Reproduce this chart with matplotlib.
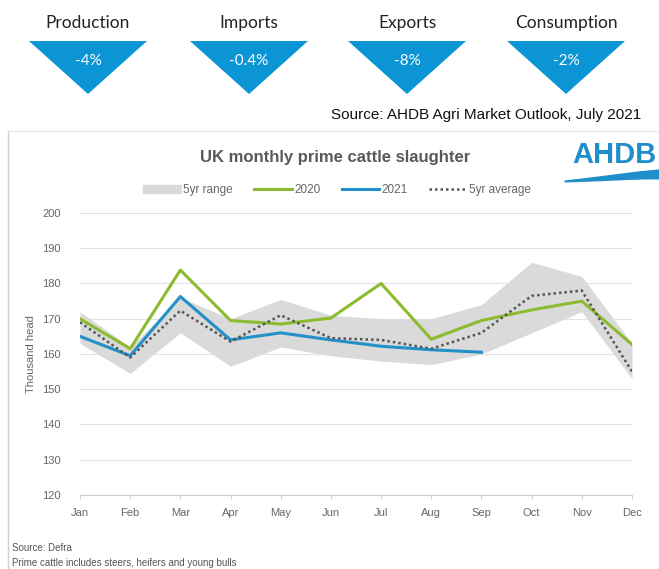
import matplotlib
matplotlib.use("Agg")
import matplotlib.pyplot as plt
from matplotlib.patches import Polygon, Patch
from matplotlib.lines import Line2D
import numpy as np

# outlook headline numbers
outlook_labels = ["Production", "Imports", "Exports", "Consumption"]
outlook_changes = ["-4%", "-0.4%", "-8%", "-2%"]

# monthly prime cattle slaughter (thousand head)
months = ["Jan", "Feb", "Mar", "Apr", "May", "Jun", "Jul", "Aug", "Sep", "Oct", "Nov", "Dec"]
range_low = [163, 154.5, 166, 156.5, 162, 159.5, 158, 157, 160, 166, 172, 153]
range_high = [172, 162, 176, 170, 175.5, 171, 170, 170, 174, 186, 182, 163]
avg_5yr = [169, 159, 172.3, 163.5, 171, 164.5, 164, 161.5, 166, 176.5, 178, 155]
y2020 = [170, 161.5, 183.8, 169.5, 168.5, 170.2, 180, 164.2, 169.5, 172.5, 175, 162.7]
y2021 = [165, 159.5, 176.3, 164, 166, 164, 162.2, 161.2, 160.5]

W, H = 659, 569
fig = plt.figure(figsize=(W / 100, H / 100), dpi=100)
plt.rcParams["font.family"] = ["Liberation Sans", "DejaVu Sans"]

# overlay in pixel coords for the infographic / decorations
ov = fig.add_axes([0, 0, 1, 1])
ov.set_xlim(0, W)
ov.set_ylim(H, 0)
ov.axis("off")

TRI_BLUE = "#0b95d4"
centres = [88, 249, 407, 566]
for cx, lab, chg in zip(centres, outlook_labels, outlook_changes):
    ov.add_patch(Polygon([[cx - 59, 41], [cx + 59, 41], [cx, 94]], closed=True,
                         color=TRI_BLUE, lw=0))
    ov.text(cx, 23, lab, ha="center", va="center", fontsize=12.5,
            family=["Lato", "DejaVu Sans"], color="#222222")
    ov.text(cx, 61, chg, ha="center", va="center", fontsize=11,
            family=["Lato", "DejaVu Sans"], color="white")

ov.text(641, 115, "Source: AHDB Agri Market Outlook, July 2021", ha="right", va="center",
        fontsize=11, color="#111111")

# chart frame
ov.plot([8, 8], [131, H], color="#d0d0d0", lw=1)
ov.plot([8, W], [131, 131], color="#e6e6e6", lw=0.8)

ov.text(335, 157, "UK monthly prime cattle slaughter", ha="center", va="center",
        fontsize=12, fontweight="bold", color="#595959")

# AHDB logo
ov.text(657, 155, "AHDB", ha="right", va="center", fontsize=21, fontweight="bold",
        color="#1f8ecb", family=["Liberation Sans", "DejaVu Sans"])
wx = np.linspace(564, 659, 60)
t = (wx - 564) / 95
top = 180 - 11 * np.sin(t * np.pi / 2) + 2 * np.sin(t * np.pi)
bot = top + 2 + 8 * t
ov.fill_between(wx, top, bot, color="#1f8ecb", lw=0)

ov.text(12, 548, "Source: Defra", ha="left", va="center", fontsize=7, color="#555555")
ov.text(12, 563, "Prime cattle includes steers, heifers and young bulls", ha="left",
        va="center", fontsize=7, color="#555555")

# main chart
ax = fig.add_axes([80 / W, 1 - 495 / H, (632 - 80) / W, (495 - 213) / H])
x = np.arange(len(months))
ax.fill_between(x, range_low, range_high, color="#dadada", lw=0, zorder=1)
ax.plot(x, y2020, color="#8cbb2f", lw=2.2, zorder=3)
ax.plot(np.arange(len(y2021)), y2021, color="#2390c8", lw=2.2, zorder=4)
ax.plot(x, avg_5yr, color="#555555", lw=1.8, ls=(0, (1, 1.2)), zorder=5)

ax.set_xlim(0, len(months) - 1)
ax.set_ylim(120, 200)
ax.set_yticks(np.arange(120, 201, 10))
ax.set_xticks(x)
ax.set_xticklabels(months)
ax.grid(axis="y", color="#e3e3e3", lw=0.8)
ax.set_axisbelow(True)
for s in ["top", "right", "left"]:
    ax.spines[s].set_visible(False)
ax.spines["bottom"].set_color("#d0d0d0")
ax.tick_params(axis="y", length=0, pad=14, labelsize=8, labelcolor="#666666")
ax.tick_params(axis="x", length=3, color="#d0d0d0", pad=6, labelsize=8, labelcolor="#666666")
ax.set_ylabel("Thousand head", fontsize=8, color="#666666", labelpad=4)
ax.patch.set_alpha(0)

handles = [Patch(color="#dadada", label="5yr range"),
           Line2D([], [], color="#8cbb2f", lw=2.2, label="2020"),
           Line2D([], [], color="#2390c8", lw=2.2, label="2021"),
           Line2D([], [], color="#555555", lw=1.8, ls=(0, (1, 1.2)), label="5yr average")]
fig.legend(handles=handles, loc="center", bbox_to_anchor=(337 / W, 1 - 190 / H), ncol=4,
           frameon=False, fontsize=8.5, labelcolor="#666666", handlelength=3.2,
           handletextpad=0.2, columnspacing=1.8, handleheight=0.6)

fig.savefig("out.png", dpi=100)
